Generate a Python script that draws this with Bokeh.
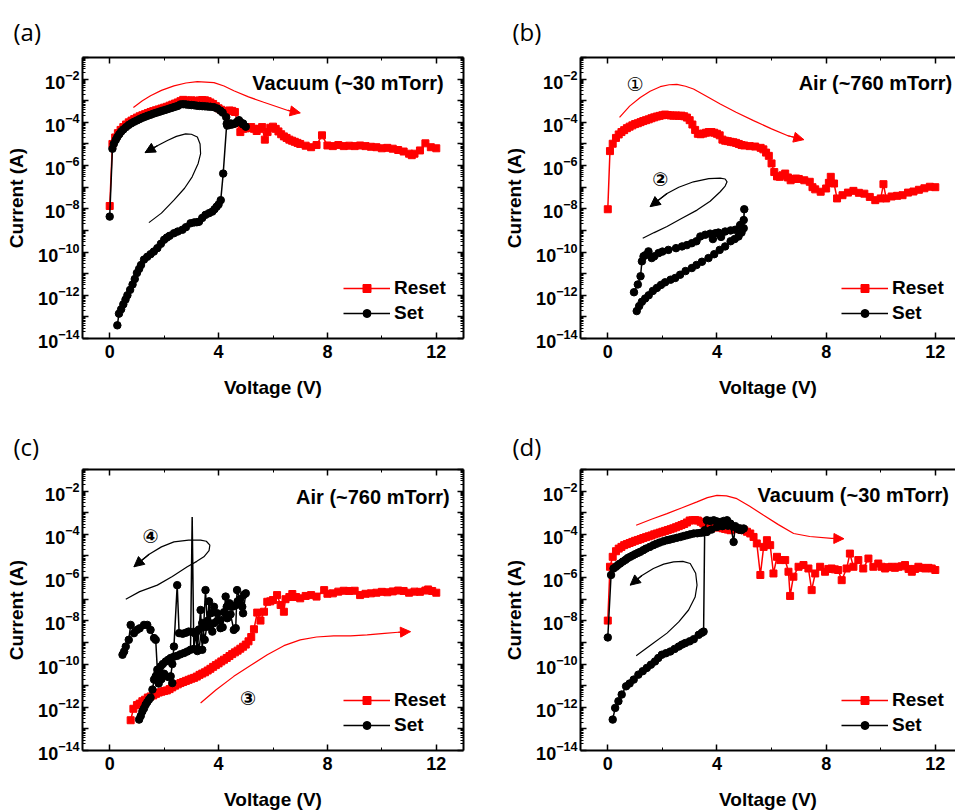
import numpy as np
from bokeh.plotting import figure
from bokeh.models import (Range1d, LinearAxis, LogAxis, FixedTicker, Label, Arrow,
                          NormalHead, Legend, LegendItem, CustomJSTickFormatter)
from bokeh.layouts import gridplot
from bokeh.embed import file_html
from bokeh.resources import INLINE

# ------------------------------------------------------------------ data
# tick values
x_major_ticks = [0, 4, 8, 12]
x_minor_ticks = [2, 6, 10]
y_decades = list(range(-14, 0))            # 1e-14 ... 1e-1
y_unlabeled = [-13, -11, -9, -7, -5, -3, -1]

# (V, log10 I)
a_reset = [(0.0,-7.87),(0.1,-5.0),(0.2,-4.7),(0.3,-4.5),(0.4,-4.35),(0.5,-4.22),(0.6,-4.1),(0.7,-4.0),
           (0.8,-3.92),(0.9,-3.85),(1.0,-3.78),(1.1,-3.72),(1.2,-3.67),(1.3,-3.62),(1.4,-3.57),(1.5,-3.52),
           (1.6,-3.48),(1.7,-3.44),(1.8,-3.4),(1.9,-3.36),(2.0,-3.32),(2.1,-3.28),(2.2,-3.23),(2.3,-3.18),
           (2.4,-3.13),(2.5,-3.08),(2.6,-3.02),(2.7,-2.96),(2.8,-2.99),(2.9,-3.0),(3.0,-2.98),(3.1,-3.02),
           (3.2,-3.0),(3.3,-2.99),(3.4,-2.97),(3.5,-2.98),(3.6,-3.02),(3.7,-3.08),(3.8,-3.15),(3.9,-3.25),
           (4.0,-3.35),(4.1,-3.42),(4.2,-3.48),(4.3,-3.5),(4.4,-3.45),(4.5,-3.47),(4.6,-3.52),(4.7,-4.05),
           (4.8,-4.45),(4.9,-4.3),(5.0,-4.28),(5.1,-4.25),(5.2,-4.22),(5.3,-4.3),(5.4,-4.4),(5.5,-4.3),
           (5.6,-4.22),(5.7,-4.8),(5.8,-4.45),(5.9,-4.25),(6.0,-4.2),(6.1,-4.3),(6.2,-4.42),(6.3,-4.55),
           (6.4,-4.65),(6.5,-4.72),(6.6,-4.8),(6.7,-4.85),(6.8,-4.9),(6.9,-4.95),(7.0,-5.0),(7.2,-5.08),
           (7.4,-5.15),(7.6,-5.05),(7.8,-4.6),(8.0,-5.07),(8.2,-5.1),(8.4,-5.05),(8.6,-5.1),(8.8,-5.08),
           (9.0,-5.1),(9.2,-5.07),(9.4,-5.1),(9.6,-5.13),(9.8,-5.15),(10.0,-5.2),(10.2,-5.18),(10.4,-5.22),
           (10.6,-5.28),(10.8,-5.35),(11.0,-5.45),(11.1,-5.52),(11.2,-5.45),(11.4,-5.3),(11.6,-4.97),
           (11.8,-5.15),(12.0,-5.2)]
a_set = [(0.28,-13.39),(0.34,-12.85),(0.42,-12.65),(0.5,-12.42),(0.58,-12.2),(0.65,-12.0),(0.75,-11.75),
         (0.84,-11.5),(0.92,-11.25),(1.0,-10.97),(1.08,-10.78),(1.15,-10.6),(1.26,-10.35),(1.38,-10.22),
         (1.5,-10.1),(1.62,-9.98),(1.75,-9.82),(1.88,-9.62),(2.0,-9.43),(2.1,-9.33),(2.2,-9.25),(2.36,-9.13),
         (2.5,-9.05),(2.67,-8.97),(2.8,-8.85),(2.97,-8.67),(3.1,-8.63),(3.2,-8.62),(3.28,-8.6),(3.4,-8.42),
         (3.52,-8.28),(3.65,-8.2),(3.77,-8.13),(3.85,-8.02),(3.93,-7.9),(4.0,-7.8),(4.08,-7.6),(4.17,-6.37),
         (4.3,-4.07),(4.45,-4.05),(4.6,-4.05),(4.75,-3.9),(4.9,-4.1),(5.0,-4.2),
         (4.9,-4.05),(4.8,-4.0),(4.7,-3.95),(4.6,-4.05),(4.5,-4.1),(4.4,-4.12),(4.32,-4.15),(4.28,-3.76),
         (4.15,-3.55),(4.07,-3.46),(3.95,-3.36),(3.83,-3.3),(3.7,-3.28),(3.6,-3.27),(3.5,-3.26),(3.4,-3.25),
         (3.3,-3.24),(3.2,-3.23),(3.1,-3.21),(3.0,-3.2),(2.9,-3.19),(2.8,-3.17),(2.7,-3.16),(2.6,-3.17),
         (2.5,-3.24),(2.4,-3.28),(2.3,-3.32),(2.2,-3.36),(2.1,-3.4),(2.0,-3.44),(1.9,-3.48),(1.8,-3.52),
         (1.7,-3.56),(1.6,-3.6),(1.5,-3.65),(1.4,-3.69),(1.3,-3.74),(1.2,-3.79),(1.1,-3.85),(1.0,-3.91),
         (0.9,-3.97),(0.8,-4.04),(0.7,-4.12),(0.6,-4.22),(0.5,-4.33),(0.42,-4.43),(0.35,-4.55),(0.28,-4.68),
         (0.22,-4.82),(0.15,-5.0),(0.1,-5.22),(0.0,-8.36)]

b_reset = [(0.0,-8.02),(0.08,-5.33),(0.18,-4.99),(0.3,-4.72),(0.4,-4.56),(0.5,-4.45),(0.6,-4.36),(0.7,-4.27),
           (0.8,-4.2),(0.9,-4.14),(1.0,-4.08),(1.1,-4.04),(1.2,-3.99),(1.3,-3.94),(1.4,-3.9),(1.5,-3.86),
           (1.6,-3.81),(1.7,-3.77),(1.8,-3.73),(1.9,-3.7),(2.0,-3.67),(2.1,-3.64),(2.2,-3.66),(2.3,-3.68),
           (2.4,-3.69),(2.5,-3.68),(2.6,-3.7),(2.7,-3.69),(2.8,-3.72),(2.9,-3.78),(3.0,-3.9),(3.1,-4.1),
           (3.2,-4.35),(3.3,-4.53),(3.4,-4.55),(3.5,-4.52),(3.6,-4.48),(3.7,-4.45),(3.8,-4.45),(3.9,-4.48),
           (4.0,-4.53),(4.1,-4.6),(4.2,-4.8),(4.3,-4.85),(4.4,-4.87),(4.5,-4.9),(4.6,-4.92),(4.7,-4.95),
           (4.8,-5.0),(4.9,-5.05),(5.0,-5.07),(5.2,-5.1),(5.4,-5.12),(5.6,-5.18),(5.7,-5.25),(5.8,-5.4),
           (5.9,-5.55),(6.0,-5.9),(6.1,-6.3),(6.2,-6.5),(6.3,-6.52),(6.4,-6.45),(6.5,-6.37),(6.6,-6.55),
           (6.7,-6.68),(6.8,-6.62),(6.9,-6.6),(7.0,-6.62),(7.2,-6.68),(7.4,-6.75),(7.5,-7.0),(7.6,-7.1),
           (7.8,-7.21),(8.0,-7.06),(8.1,-6.8),(8.17,-6.52),(8.29,-6.83),(8.4,-7.52),(8.6,-7.37),(8.8,-7.25),
           (9.0,-7.17),(9.2,-7.26),(9.4,-7.3),(9.6,-7.45),(9.8,-7.6),(10.0,-7.52),(10.1,-6.86),(10.2,-7.52),
           (10.4,-7.43),(10.6,-7.4),(10.8,-7.37),(11.0,-7.25),(11.2,-7.2),(11.4,-7.12),(11.6,-7.05),
           (11.8,-6.98),(12.0,-7.0)]
b_set = [(1.06,-12.73),(1.15,-12.5),(1.25,-12.3),(1.37,-12.15),(1.5,-12.0),(1.65,-11.8),(1.8,-11.66),
         (1.95,-11.52),(2.1,-11.4),(2.3,-11.28),(2.47,-11.2),(2.65,-11.05),(2.85,-10.88),(3.08,-10.74),
         (3.25,-10.6),(3.45,-10.45),(3.69,-10.28),(3.9,-10.1),(4.1,-9.9),(4.3,-9.74),(4.5,-9.5),(4.65,-9.4),
         (4.79,-9.28),(4.9,-9.1),(4.98,-8.9),(5.0,-8.02),(4.98,-8.52),(4.85,-8.75),(4.67,-8.97),(4.5,-9.0),
         (4.3,-9.05),(4.15,-9.3),(4.05,-9.1),(3.94,-9.13),(3.85,-9.4),(3.75,-9.15),(3.57,-9.2),(3.39,-9.28),
         (3.25,-9.5),(3.08,-9.59),(2.9,-9.68),(2.72,-9.74),(2.5,-9.82),(2.22,-9.9),(2.0,-9.98),(1.86,-10.05),
         (1.7,-10.2),(1.61,-10.28),(1.49,-9.97),(1.37,-10.15),(1.31,-10.2),(1.25,-10.43),(1.2,-11.12),
         (1.1,-11.5),(0.96,-11.86)]

c_reset = [(0.77,-12.6),(0.87,-12.07),(1.0,-11.9),(1.1,-11.83),(1.2,-11.72),(1.3,-11.65),(1.4,-11.55),
           (1.5,-11.5),(1.6,-11.45),(1.7,-11.38),(1.8,-11.32),(1.9,-11.28),(2.0,-11.25),(2.1,-11.22),
           (2.2,-11.16),(2.3,-11.08),(2.4,-11.0),(2.5,-10.94),(2.6,-10.88),(2.7,-10.83),(2.8,-10.78),
           (2.9,-10.73),(3.0,-10.68),(3.1,-10.64),(3.2,-10.58),(3.3,-10.5),(3.4,-10.44),(3.5,-10.38),
           (3.6,-10.3),(3.7,-10.22),(3.8,-10.13),(3.9,-10.05),(4.0,-9.97),(4.1,-9.88),(4.2,-9.8),(4.3,-9.72),
           (4.4,-9.63),(4.5,-9.54),(4.6,-9.46),(4.7,-9.38),(4.8,-9.29),(4.9,-9.2),(5.0,-9.1),(5.1,-8.95),
           (5.2,-8.75),(5.3,-8.39),(5.42,-7.62),(5.54,-7.99),(5.67,-7.58),(5.79,-7.12),(5.9,-7.1),(6.0,-7.04),
           (6.15,-6.81),(6.28,-7.27),(6.4,-7.58),(6.46,-7.0),(6.6,-6.9),(6.71,-6.76),(6.85,-6.9),(7.0,-6.96),
           (7.2,-6.85),(7.4,-6.81),(7.6,-6.88),(7.88,-6.58),(8.0,-6.75),(8.2,-6.73),(8.4,-6.65),(8.6,-6.61),
           (8.8,-6.62),(9.0,-6.61),(9.2,-6.81),(9.4,-6.75),(9.6,-6.73),(9.8,-6.7),(10.0,-6.66),(10.2,-6.68),
           (10.4,-6.64),(10.6,-6.6),(10.8,-6.62),(11.0,-6.7),(11.2,-6.65),(11.4,-6.66),(11.6,-6.6),
           (11.7,-6.55),(11.85,-6.62),(12.0,-6.7)]
c_set = [(1.08,-12.57),(1.14,-12.4),(1.2,-12.19),(1.26,-12.05),(1.32,-11.88),(1.38,-11.76),(1.44,-11.65),
         (1.5,-11.55),(1.57,-11.18),(1.63,-10.72),(1.69,-10.57),(1.75,-10.45),(1.81,-10.3),(1.87,-10.11),
         (1.95,-10.0),(2.06,-9.88),(2.15,-9.8),(2.24,-9.72),(2.36,-9.66),(2.48,-9.62),(2.6,-9.55),
         (2.73,-9.49),(2.85,-9.42),(2.97,-9.34),(3.03,-3.2),(3.09,-9.3),(3.15,-8.6),(3.22,-9.4),(3.28,-8.4),
         (3.34,-7.5),(3.4,-9.34),(3.45,-8.3),(3.52,-6.58),(3.59,-8.27),(3.65,-7.1),(3.71,-8.2),(3.77,-8.5),
         (3.83,-8.11),(3.95,-8.0),(4.07,-7.96),(4.15,-8.3),(4.26,-6.88),(4.32,-7.88),(4.44,-7.7),
         (4.56,-8.42),(4.63,-8.34),(4.68,-6.58),(4.78,-7.0),(4.87,-7.35),(4.93,-6.8),(5.0,-6.73),
         (4.9,-7.65),(4.8,-7.25),(4.7,-7.1),(4.6,-7.3),(4.5,-7.35),(4.4,-7.19),(4.3,-7.35),(4.2,-7.6),
         (4.07,-8.34),(3.95,-7.65),(3.83,-7.35),(3.72,-7.65),(3.6,-8.0),(3.49,-8.88),(3.4,-8.1),(3.28,-9.34),
         (3.18,-8.5),(3.05,-8.52),(2.9,-8.5),(2.8,-8.55),(2.68,-8.6),(2.55,-8.57),(2.48,-6.35),(2.36,-9.19),
         (2.3,-10.0),(2.24,-10.57),(2.3,-10.88),(2.15,-10.6),(2.0,-10.45),(1.9,-10.7),(1.8,-10.9),
         (1.75,-10.26),(1.69,-8.88),(1.63,-8.8),(1.5,-8.42),(1.38,-8.19),(1.26,-8.19),(1.1,-8.35),
         (1.0,-8.42),(0.89,-8.57),(0.77,-8.19),(0.7,-8.88),(0.59,-9.19),(0.53,-9.42),(0.47,-9.57)]

d_reset = [(0.0,-7.99),(0.08,-5.5),(0.18,-5.04),(0.3,-4.78),(0.4,-4.66),(0.5,-4.58),(0.6,-4.5),(0.7,-4.45),
           (0.8,-4.4),(0.9,-4.35),(1.0,-4.3),(1.1,-4.26),(1.2,-4.22),(1.3,-4.17),(1.4,-4.13),(1.5,-4.09),
           (1.6,-4.05),(1.7,-4.0),(1.8,-3.96),(1.9,-3.92),(2.0,-3.88),(2.1,-3.84),(2.2,-3.8),(2.3,-3.76),
           (2.4,-3.72),(2.5,-3.67),(2.6,-3.62),(2.7,-3.57),(2.8,-3.52),(2.9,-3.45),(3.0,-3.36),(3.1,-3.35),
           (3.2,-3.34),(3.3,-3.36),(3.4,-3.42),(3.5,-3.5),(3.6,-3.6),(3.7,-3.7),(3.8,-3.72),(3.9,-3.68),
           (4.0,-3.66),(4.1,-3.68),(4.2,-3.72),(4.3,-3.75),(4.4,-3.78),(4.5,-3.81),(4.6,-3.76),(4.7,-3.73),
           (4.8,-3.75),(4.9,-3.8),(5.0,-3.81),(5.1,-3.88),(5.22,-3.96),(5.34,-4.12),(5.46,-4.42),(5.59,-5.88),
           (5.71,-4.58),(5.83,-4.27),(5.95,-4.5),(6.07,-5.81),(6.2,-5.04),(6.32,-5.19),(6.5,-5.19),
           (6.62,-5.73),(6.68,-6.85),(6.8,-5.96),(6.99,-5.5),(7.17,-5.42),(7.35,-5.58),(7.47,-6.58),
           (7.6,-5.81),(7.78,-5.5),(7.96,-5.73),(8.08,-5.6),(8.2,-5.58),(8.32,-5.62),(8.44,-5.65),(8.57,-6.12),
           (8.75,-5.58),(8.87,-4.89),(9.0,-5.5),(9.18,-5.19),(9.36,-5.58),(9.55,-5.12),(9.73,-5.5),
           (9.91,-5.35),(10.03,-5.5),(10.16,-5.58),(10.28,-5.52),(10.4,-5.5),(10.52,-5.55),(10.65,-5.5),
           (10.77,-5.48),(10.89,-5.42),(11.02,-5.6),(11.14,-5.73),(11.26,-5.6),(11.38,-5.5),(11.5,-5.55),
           (11.63,-5.58),(11.75,-5.55),(11.87,-5.58),(12.0,-5.65)]
d_set = [(0.18,-12.57),(0.27,-12.03),(0.39,-11.72),(0.51,-11.41),(0.67,-11.03),(0.8,-10.9),(0.95,-10.72),
         (1.12,-10.49),(1.28,-10.33),(1.43,-10.18),(1.58,-10.03),(1.73,-9.88),(1.85,-9.72),(1.98,-9.57),
         (2.13,-9.5),(2.29,-9.42),(2.45,-9.3),(2.6,-9.19),(2.72,-9.1),(2.84,-9.03),(3.0,-8.95),(3.15,-8.85),
         (3.33,-8.65),(3.45,-8.55),(3.51,-8.5),(3.55,-3.81),(3.63,-3.35),(3.75,-3.38),(3.88,-3.35),
         (4.0,-3.4),(4.12,-3.43),(4.25,-3.38),(4.37,-3.35),(4.49,-3.5),(4.61,-4.35),(4.67,-3.62),
         (4.78,-3.72),(4.86,-3.73),(4.98,-3.73),(4.9,-3.8),(4.8,-3.78),(4.6,-3.65),(4.4,-3.6),(4.2,-3.62),
         (4.0,-3.66),(3.8,-3.78),(3.63,-3.89),(3.5,-3.91),(3.4,-3.93),(3.28,-3.95),(3.15,-3.96),(3.02,-4.0),
         (2.9,-4.04),(2.78,-4.08),(2.66,-4.12),(2.53,-4.16),(2.4,-4.2),(2.28,-4.24),(2.17,-4.27),
         (2.04,-4.32),(1.9,-4.38),(1.78,-4.44),(1.67,-4.5),(1.54,-4.58),(1.4,-4.66),(1.3,-4.73),
         (1.19,-4.81),(1.1,-4.86),(1.0,-4.92),(0.91,-4.98),(0.82,-5.04),(0.73,-5.1),(0.65,-5.18),
         (0.55,-5.26),(0.45,-5.35),(0.37,-5.42),(0.3,-5.5),(0.21,-5.58),(0.12,-5.88),(0.0,-8.77)]

# direction-arrow paths (V, log10 I)
a_arrow_red = [(0.87,-3.31),(1.2,-3.0),(1.5,-2.77),(1.9,-2.52),(2.36,-2.31),(2.8,-2.18),(3.22,-2.12),
               (3.83,-2.16),(4.2,-2.32),(4.56,-2.54),(5.1,-2.82),(5.66,-3.07),(6.2,-3.3),(6.55,-3.45),(7.0,-3.56)]
a_arrow_black = [(1.44,-8.64),(1.9,-8.2),(2.36,-7.6),(2.75,-7.05),(3.03,-6.52),(3.25,-5.9),(3.34,-5.45),
                 (3.32,-5.0),(3.22,-4.68),(3.0,-4.55),(2.79,-4.53),(2.45,-4.65),(2.12,-4.84),(1.75,-5.08),(1.3,-5.4)]
b_arrow_red = [(0.43,-3.77),(0.8,-3.25),(1.19,-2.85),(1.55,-2.56),(1.92,-2.35),(2.25,-2.26),(2.53,-2.24),
               (2.85,-2.33),(3.14,-2.46),(3.6,-2.78),(4.12,-3.15),(4.7,-3.53),(5.34,-3.92),(6.0,-4.3),
               (6.6,-4.62),(7.18,-4.8)]
b_arrow_black = [(1.28,-9.36),(1.7,-9.1),(2.17,-8.82),(2.7,-8.45),(3.27,-8.06),(3.75,-7.65),(4.12,-7.21),
                 (4.3,-6.95),(4.37,-6.75),(4.3,-6.62),(4.12,-6.58),(3.7,-6.6),(3.14,-6.75),(2.6,-7.0),
                 (2.17,-7.29),(1.55,-7.9)]
c_arrow_red = [(3.34,-11.8),(3.9,-11.2),(4.56,-10.57),(5.2,-10.05),(5.79,-9.57),(6.4,-9.15),(7.0,-8.88),
               (7.6,-8.75),(8.23,-8.7),(8.85,-8.7),(9.46,-8.65),(10.1,-8.58),(10.6,-8.53),(11.05,-8.5)]
c_arrow_black = [(0.59,-7.0),(1.1,-6.65),(1.75,-6.35),(2.3,-5.95),(2.85,-5.5),(3.2,-5.25),(3.46,-5.04),
                 (3.65,-4.75),(3.68,-4.5),(3.55,-4.32),(3.34,-4.27),(2.9,-4.27),(2.36,-4.35),(1.9,-4.58),
                 (1.45,-4.92),(0.89,-5.5)]
d_arrow_red = [(1.04,-3.58),(1.6,-3.3),(2.17,-3.04),(2.7,-2.78),(3.27,-2.5),(3.65,-2.3),(4.0,-2.2),
               (4.35,-2.22),(4.73,-2.35),(5.2,-2.7),(5.71,-3.12),(6.25,-3.55),(6.81,-3.96),(7.4,-4.1),
               (8.2,-4.19),(8.65,-4.2)]
d_arrow_black = [(1.04,-9.62),(1.6,-9.1),(2.17,-8.57),(2.6,-8.05),(2.96,-7.5),(3.2,-6.9),(3.27,-6.35),
                 (3.22,-5.8),(3.02,-5.35),(2.75,-5.25),(2.41,-5.27),(2.05,-5.38),(1.67,-5.58),(1.25,-5.9),
                 (0.82,-6.35)]

panel_letters = ["(a)", "(b)", "(c)", "(d)"]
conditions = ["Vacuum (~30 mTorr)", "Air (~760 mTorr)", "Air (~760 mTorr)", "Vacuum (~30 mTorr)"]

# ------------------------------------------------------------------ styling helpers
FONT = "Liberation Sans"
RED = "#ff0000"
BLACK = "#000000"


def unzip(pairs):
    v = [p[0] for p in pairs]
    i = [10.0 ** p[1] for p in pairs]
    return v, i


def style_axis(ax):
    ax.axis_line_width = 2
    ax.axis_line_color = BLACK
    ax.major_tick_in = 6
    ax.major_tick_out = 0
    ax.minor_tick_in = 3
    ax.minor_tick_out = 0
    ax.major_tick_line_width = 1.5
    ax.minor_tick_line_width = 1
    ax.major_tick_line_color = BLACK
    ax.minor_tick_line_color = BLACK
    ax.major_label_text_font = FONT
    ax.major_label_text_font_style = "bold"
    ax.major_label_text_font_size = "18px"
    ax.major_label_text_color = BLACK
    ax.axis_label_text_font = FONT
    ax.axis_label_text_font_style = "bold"
    ax.axis_label_text_font_size = "19px"
    ax.axis_label_text_color = BLACK


def y_ticker():
    return FixedTicker(ticks=[10.0 ** k for k in y_decades],
                       minor_ticks=[m * 10.0 ** k for k in y_decades[:-1] for m in range(2, 10)])


def x_ticker():
    return FixedTicker(ticks=x_major_ticks, minor_ticks=x_minor_ticks)


def blank_formatter():
    return CustomJSTickFormatter(code="return ''")


def make_panel(width, height, borders, xmax, right_axis, letter, title_offset, title_standoff):
    p = figure(width=width, height=height, x_range=Range1d(-1, xmax), y_range=Range1d(1e-14, 1e-1),
               y_axis_type="log", output_backend="svg", toolbar_location=None,
               min_border_left=borders[0], min_border_right=borders[1],
               min_border_top=borders[2], min_border_bottom=borders[3])
    p.outline_line_color = None
    p.xgrid.visible = False
    p.ygrid.visible = False
    p.background_fill_color = "white"
    p.border_fill_color = "white"

    p.title.text = letter
    p.title.align = "left"
    p.title.vertical_align = "bottom"
    p.title.offset = title_offset
    p.title.standoff = title_standoff
    p.title.text_font = "Open Sans"
    p.title.text_font_size = "24px"
    p.title.text_font_style = "normal"
    p.title.text_color = BLACK

    xa = p.xaxis[0]
    xa.ticker = x_ticker()
    style_axis(xa)
    xa.axis_label = "Voltage (V)"
    xa.major_label_standoff = 6
    xa.axis_label_standoff = 16

    ya = p.yaxis[0]
    ya.ticker = y_ticker()
    style_axis(ya)
    ya.axis_label = "Current (A)"
    ya.major_label_overrides = {10.0 ** k: "" for k in y_unlabeled}
    ya.major_label_standoff = 3
    ya.axis_label_standoff = 8

    top = LinearAxis(ticker=x_ticker(), formatter=blank_formatter())
    style_axis(top)
    top.major_label_text_font_size = "0px"
    top.major_label_standoff = 0
    p.add_layout(top, "above")
    if right_axis:
        ra = LogAxis(ticker=y_ticker(), formatter=blank_formatter())
        style_axis(ra)
        ra.major_label_text_font_size = "0px"
        ra.major_label_standoff = 0
        p.add_layout(ra, "right")
    return p


def add_series(p, reset_pairs, set_pairs, marker_max=None):
    rv, ri = unzip(reset_pairs)
    sv, si = unzip(set_pairs)
    rl = p.line(rv, ri, line_color=RED, line_width=1.5)
    rs = p.scatter(rv, ri, marker="square", size=7, fill_color=RED, line_color=RED)
    sl = p.line(sv, si, line_color=BLACK, line_width=1.5)
    if marker_max is not None:
        mv = [v for v, i in zip(sv, si) if i < marker_max]
        mi = [i for i in si if i < marker_max]
    else:
        mv, mi = sv, si
    ss = p.scatter(mv, mi, marker="circle", size=7.5, fill_color=BLACK, line_color=BLACK)
    legend = Legend(items=[LegendItem(label="Reset", renderers=[rl, rs]),
                           LegendItem(label="Set", renderers=[sl, ss])],
                    location=(261, 14))
    legend.background_fill_alpha = 0
    legend.border_line_color = None
    legend.label_text_font = FONT
    legend.label_text_font_style = "bold"
    legend.label_text_font_size = "19px"
    legend.label_text_color = BLACK
    legend.glyph_width = 47
    legend.glyph_height = 20
    legend.label_height = 20
    legend.label_standoff = 4
    legend.spacing = 3
    legend.padding = 0
    legend.margin = 0
    p.add_layout(legend)


def add_arrow(p, pairs, color):
    v = [q[0] for q in pairs]
    i = [10.0 ** q[1] for q in pairs]
    p.line(v, i, line_color=color, line_width=1.2)
    p.add_layout(Arrow(end=NormalHead(size=10, fill_color=color, line_color=color),
                       x_start=v[-2], y_start=i[-2], x_end=v[-1], y_end=i[-1],
                       line_color=color, line_width=1.2))


def add_text(p, x, logy, text, size="20px", font=FONT, style="bold", align="right"):
    p.add_layout(Label(x=x, y=10.0 ** logy, text=text, text_font=font, text_font_size=size,
                       text_font_style=style, text_align=align, text_baseline="middle",
                       text_color=BLACK))


# ------------------------------------------------------------------ panels
pa = make_panel(480, 400, (82, 17, 57, 60), 13, True, panel_letters[0], -69, 19)
add_arrow(pa, a_arrow_red, RED)
add_arrow(pa, a_arrow_black, BLACK)
add_series(pa, a_reset, a_set)
add_text(pa, 12.27, -2.16, conditions[0])

pb = make_panel(475, 400, (100, 0, 57, 60), 12.74, False, panel_letters[1], -68, 19)
add_arrow(pb, b_arrow_red, RED)
add_arrow(pb, b_arrow_black, BLACK)
add_series(pb, b_reset, b_set)
add_text(pb, 12.62, -2.2, conditions[1])
add_text(pb, 1.0, -2.23, "\u2460", size="19px", font="DejaVu Sans", style="normal", align="center")
add_text(pb, 1.92, -6.6, "\u2461", size="19px", font="DejaVu Sans", style="bold", align="center")

pc = make_panel(480, 412, (82, 17, 69, 61), 13, True, panel_letters[2], -69, 14)
add_arrow(pc, c_arrow_red, RED)
add_arrow(pc, c_arrow_black, BLACK)
add_series(pc, c_reset, c_set, marker_max=1e-5)
add_text(pc, 12.49, -2.28, conditions[2])
add_text(pc, 1.5, -4.09, "\u2463", size="19px", font="DejaVu Sans", style="bold", align="center")
add_text(pc, 5.08, -11.57, "\u2462", size="19px", font="DejaVu Sans", style="bold", align="center")

pd_ = make_panel(475, 412, (100, 0, 69, 61), 12.74, False, panel_letters[3], -68, 14)
add_arrow(pd_, d_arrow_red, RED)
add_arrow(pd_, d_arrow_black, BLACK)
add_series(pd_, d_reset, d_set)
add_text(pd_, 12.5, -2.2, conditions[3])

grid = gridplot([[pa, pb], [pc, pd_]], toolbar_location=None)

open("out.html", "w").write(file_html(grid, INLINE))
